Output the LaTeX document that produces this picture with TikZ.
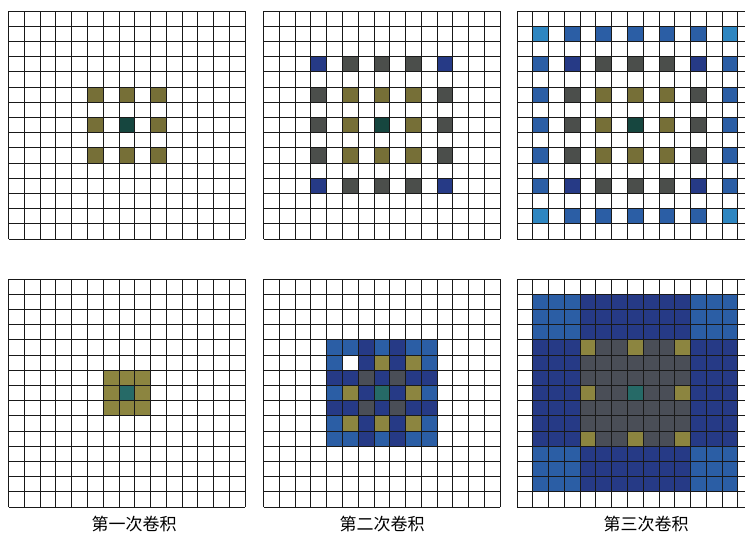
\documentclass[tikz,border=0pt]{standalone}
\usepackage{fontspec}
\newfontfamily\cjk{Noto Sans CJK SC}
\usepackage{tikz}
\usetikzlibrary{positioning}

\definecolor{oliveT}{HTML}{766F37}
\definecolor{tealT}{HTML}{16463F}
\definecolor{grayT}{HTML}{4B4E4B}
\definecolor{oliveB}{HTML}{8C8540}
\definecolor{tealB}{HTML}{266A67}
\definecolor{grayB}{HTML}{4A4E57}
\definecolor{navyC}{HTML}{263A86}
\definecolor{midC}{HTML}{2B5EA5}
\definecolor{lightC}{HTML}{2E86C1}

% one cell of a grid: column, row, colour
\newcommand{\paintcell}[3]{\fill[#3] (#1-1,#2-1) rectangle (#1,#2);}
\newcommand{\drawgrid}{\foreach \i in {0,...,15} {\draw[gridline] (\i,0) -- (\i,15); \draw[gridline] (0,\i) -- (15,\i);}}

\begin{document}
\begin{tikzpicture}[x=1pt,y=1pt,
  gridline/.style={draw=black!90,line width=0.9pt},
  grid/.style={x=15.78pt,y=-15.2pt},
  lab/.style={font=\cjk\fontsize{17}{20}\selectfont,inner sep=0pt}]
\useasboundingbox (0,0) rectangle (745,-533);
\clip (0,0) rectangle (745,-533);

% top row: dilated kernels
\begin{scope}[shift={(8.5pt,-11pt)},grid]
\foreach \c in {6,8,10} \foreach \r in {6,8,10} {\paintcell{\c}{\r}{oliveT}}
\paintcell{8}{8}{tealT}
\drawgrid
\end{scope}

\begin{scope}[shift={(263.5pt,-11pt)},grid]
\foreach \c in {4,6,8,10,12} \foreach \r in {4,6,8,10,12} {\paintcell{\c}{\r}{grayT}}
\foreach \c/\r in {4/4,12/4,4/12,12/12} {\paintcell{\c}{\r}{navyC}}
\foreach \c in {6,8,10} \foreach \r in {6,8,10} {\paintcell{\c}{\r}{oliveT}}
\paintcell{8}{8}{tealT}
\drawgrid
\end{scope}

\begin{scope}[shift={(517pt,-11pt)},grid]
\foreach \c in {2,4,...,14} \foreach \r in {2,4,...,14} {\paintcell{\c}{\r}{midC}}
\foreach \c/\r in {2/2,14/2,2/14,14/14} {\paintcell{\c}{\r}{lightC}}
\foreach \c in {4,6,8,10,12} \foreach \r in {4,6,8,10,12} {\paintcell{\c}{\r}{grayT}}
\foreach \c/\r in {4/4,12/4,4/12,12/12} {\paintcell{\c}{\r}{navyC}}
\foreach \c in {6,8,10} \foreach \r in {6,8,10} {\paintcell{\c}{\r}{oliveT}}
\paintcell{8}{8}{tealT}
\drawgrid
\end{scope}

% bottom row: receptive fields
\begin{scope}[shift={(8.5pt,-279pt)},grid]
\foreach \c in {7,8,9} \foreach \r in {7,8,9} {\paintcell{\c}{\r}{oliveB}}
\paintcell{8}{8}{tealB}
\drawgrid
\end{scope}

\begin{scope}[shift={(263.5pt,-279pt)},grid]
\foreach \c in {5,...,11} \foreach \r in {5,...,11} {\paintcell{\c}{\r}{midC}}
\foreach \k in {7,9} \foreach \j in {5,...,11} {\paintcell{\k}{\j}{navyC}\paintcell{\j}{\k}{navyC}}
\foreach \c in {7,9} \foreach \r in {7,9} {\paintcell{\c}{\r}{grayB}}
\foreach \c in {6,8,10} \foreach \r in {6,8,10} {\paintcell{\c}{\r}{oliveB}}
\paintcell{8}{8}{tealB}
\paintcell{6}{6}{white}
\drawgrid
\end{scope}

\begin{scope}[shift={(517pt,-279pt)},grid]
\foreach \c in {2,...,14} \foreach \r in {2,...,14} {\paintcell{\c}{\r}{midC}}
\foreach \k in {5,...,11} \foreach \j in {2,...,14} {\paintcell{\k}{\j}{navyC}\paintcell{\j}{\k}{navyC}}
\foreach \c in {5,...,11} \foreach \r in {5,...,11} {\paintcell{\c}{\r}{grayB}}
\foreach \c in {5,8,11} \foreach \r in {5,8,11} {\paintcell{\c}{\r}{oliveB}}
\paintcell{8}{8}{tealB}
\drawgrid
\end{scope}

\node[lab] (lab1) at (134,-524) {第一次卷积};
\node[lab] (lab2) at (382,-524) {第二次卷积};
\node[lab] (lab3) at (646,-524) {第三次卷积};
\end{tikzpicture}
\end{document}
